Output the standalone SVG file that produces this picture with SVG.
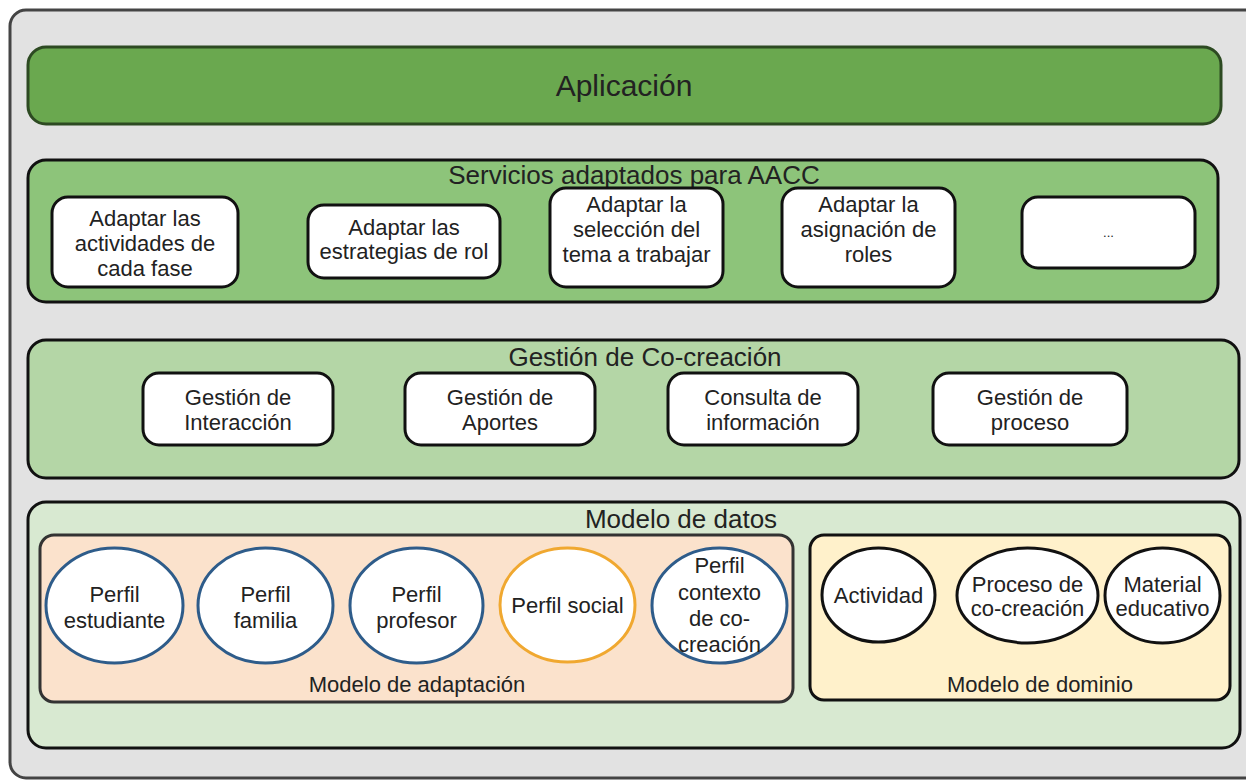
<svg xmlns="http://www.w3.org/2000/svg" width="1246" height="783" viewBox="0 0 1246 783">
<style>
text{font-family:"Liberation Sans",Arial,sans-serif;fill:#222;text-anchor:middle}
.sec{font-size:26px}
.nd{font-size:22px}
.box{fill:#fff;stroke:#111;stroke-width:3}
.pb{fill:#fff;stroke:#2e5c8a;stroke-width:3}
.po{fill:#fff;stroke:#f0a830;stroke-width:3}
.pd{fill:#fff;stroke:#111;stroke-width:3}
</style>
<rect x="0" y="0" width="1246" height="783" fill="#ffffff"/>
<g id="frame"><rect x="10" y="10" width="1260" height="768" rx="16" fill="#e2e2e2" stroke="#444" stroke-width="3"/></g>
<g id="aplicacion">
<rect x="28" y="47" width="1193" height="77" rx="18" fill="#6aa84f" stroke="#2d4a22" stroke-width="3"/>
<text x="624" y="96" style="font-size:30px" fill="#1c2e14">Aplicación</text>
</g>
<g id="servicios">
<rect x="28" y="160" width="1190" height="142" rx="18" fill="#8dc47a" stroke="#111" stroke-width="3"/>
<text class="sec" x="634" y="184">Servicios adaptados para AACC</text>
</g>
<g id="s1"><rect class="box" x="52" y="197" width="186" height="90" rx="16"/>
<text class="nd" x="145" y="226">Adaptar las</text><text class="nd" x="145" y="251">actividades de</text><text class="nd" x="145" y="276">cada fase</text></g>
<g id="s2"><rect class="box" x="308" y="205" width="192" height="73" rx="16"/>
<text class="nd" x="404" y="235">Adaptar las</text><text class="nd" x="404" y="259">estrategias de rol</text></g>
<g id="s3"><rect class="box" x="550" y="188" width="173" height="99" rx="16"/>
<text class="nd" x="636.5" y="212">Adaptar la</text><text class="nd" x="636.5" y="237">selección del</text><text class="nd" x="636.5" y="262">tema a trabajar</text></g>
<g id="s4"><rect class="box" x="782" y="188" width="173" height="99" rx="16"/>
<text class="nd" x="868.5" y="212">Adaptar la</text><text class="nd" x="868.5" y="237">asignación de</text><text class="nd" x="868.5" y="262">roles</text></g>
<g id="s5"><rect class="box" x="1022" y="197" width="173" height="71" rx="16"/>
<text x="1108.5" y="237" style="font-size:13px" fill="#999">...</text></g>
<g id="gestion">
<rect x="28" y="340" width="1211" height="138" rx="18" fill="#b4d6a6" stroke="#111" stroke-width="3"/>
<text class="sec" x="645" y="366">Gestión de Co-creación</text>
</g>
<g id="g1"><rect class="box" x="143" y="373" width="190" height="72" rx="16"/>
<text class="nd" x="238" y="405">Gestión de</text><text class="nd" x="238" y="430">Interacción</text></g>
<g id="g2"><rect class="box" x="405" y="373" width="190" height="72" rx="16"/>
<text class="nd" x="500" y="405">Gestión de</text><text class="nd" x="500" y="430">Aportes</text></g>
<g id="g3"><rect class="box" x="668" y="373" width="190" height="72" rx="16"/>
<text class="nd" x="763" y="405">Consulta de</text><text class="nd" x="763" y="430">información</text></g>
<g id="g4"><rect class="box" x="933" y="373" width="194" height="72" rx="16"/>
<text class="nd" x="1030" y="405">Gestión de</text><text class="nd" x="1030" y="430">proceso</text></g>
<g id="datos">
<rect x="28" y="502" width="1212" height="246" rx="18" fill="#d8e9d1" stroke="#111" stroke-width="3"/>
<text class="sec" x="681" y="528">Modelo de datos</text>
</g>
<g id="adaptacion">
<rect x="40" y="535" width="753" height="167" rx="14" fill="#fbe2cc" stroke="#333" stroke-width="3"/>
<text class="nd" x="417" y="692">Modelo de adaptación</text>
</g>
<g id="p1"><ellipse class="pb" cx="114.5" cy="605.5" rx="68.5" ry="57.5"/>
<text class="nd" x="114.5" y="602">Perfil</text><text class="nd" x="114.5" y="628">estudiante</text></g>
<g id="p2"><ellipse class="pb" cx="265.5" cy="605.5" rx="67.5" ry="57.5"/>
<text class="nd" x="265.5" y="602">Perfil</text><text class="nd" x="265.5" y="628">familia</text></g>
<g id="p3"><ellipse class="pb" cx="416.5" cy="605.5" rx="66.5" ry="57.5"/>
<text class="nd" x="416.5" y="602">Perfil</text><text class="nd" x="416.5" y="628">profesor</text></g>
<g id="p4"><ellipse class="po" cx="567.5" cy="605" rx="67.5" ry="57"/>
<text class="nd" x="567.5" y="613">Perfil social</text></g>
<g id="p5"><ellipse class="pb" cx="719.5" cy="605.5" rx="67.5" ry="57.5"/>
<text class="nd" x="719.5" y="573">Perfil</text><text class="nd" x="719.5" y="600">contexto</text><text class="nd" x="719.5" y="626">de co-</text><text class="nd" x="719.5" y="652">creación</text></g>
<g id="dominio">
<rect x="810" y="535" width="420" height="165" rx="14" fill="#fff1cb" stroke="#111" stroke-width="3"/>
<text class="nd" x="1040" y="692">Modelo de dominio</text>
</g>
<g id="d1"><ellipse class="pd" cx="878.5" cy="595" rx="56.5" ry="47"/>
<text class="nd" x="878.5" y="603">Actividad</text></g>
<g id="d2"><ellipse class="pd" cx="1027.5" cy="595.5" rx="70.5" ry="47.5"/>
<text class="nd" x="1027.5" y="592">Proceso de</text><text class="nd" x="1027.5" y="616">co-creación</text></g>
<g id="d3"><ellipse class="pd" cx="1162.5" cy="595.5" rx="57.5" ry="47.5"/>
<text class="nd" x="1162.5" y="592">Material</text><text class="nd" x="1162.5" y="616">educativo</text></g>
<g id="connectors"></g>
</svg>
